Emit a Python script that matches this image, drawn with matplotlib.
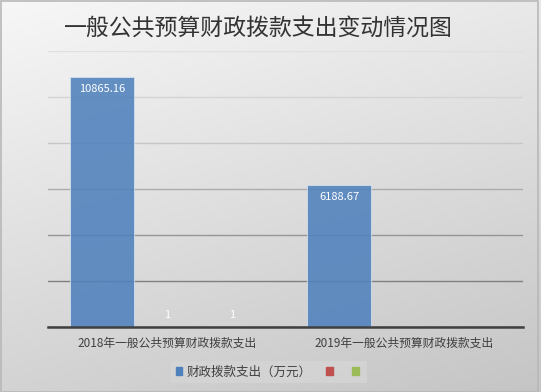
import numpy as np
import matplotlib.pyplot as plt
from matplotlib.patches import Patch, Rectangle

plt.rcParams['font.family'] = ['Noto Sans CJK SC', 'DejaVu Sans']

# data
title = '一般公共预算财政拨款支出变动情况图'
categories = ['2018年一般公共预算财政拨款支出', '2019年一般公共预算财政拨款支出']
series_names = ['财政拨款支出（万元）', '', '']
series_values = [
    [10865.16, 6188.67],
    [1, None],
    [1, None],
]
series_colors = ['#4f81bd', '#c0504d', '#9bbb59']
yticks = [0, 2000, 4000, 6000, 8000, 10000, 12000]

fig = plt.figure(figsize=(5.41, 3.92), dpi=100)

# gradient background like the office chart
bg = fig.add_axes([0, 0, 1, 1], zorder=-5)
gx, gy = np.meshgrid(np.linspace(0, 1, 200), np.linspace(0, 1, 200))
grad = (247 - 36 * gy - 14 * gx) / 255.0
bg.imshow(np.dstack([grad, grad, grad]), extent=[0, 1, 0, 1], aspect='auto', origin='upper')
bg.add_patch(Rectangle((0.001, 0.001), 0.994, 0.996, fill=False, edgecolor='#b8b8b8', lw=1.2))
bg.set_xlim(0, 1)
bg.set_ylim(0, 1)
bg.axis('off')

ax = fig.add_axes([48 / 541, 1 - 327 / 392, 475 / 541, 276 / 392])
ax.patch.set_alpha(0)

n = len(series_values)
x = np.arange(len(categories))
step = 65 / 237.5
width = 64 / 237.5
for i, (vals, col) in enumerate(zip(series_values, series_colors)):
    xs = x + (i - (n - 1) / 2) * step
    for xi, v in zip(xs, vals):
        if v is None:
            continue
        ax.bar(xi, v, width=width, color=col, alpha=0.88, edgecolor='#dbe5f1', lw=0.6, zorder=3)
        if v > 1000:
            ax.annotate(f'{v:.2f}', (xi, v), xytext=(0, -5), textcoords='offset points',
                        ha='center', va='top', color='white', fontsize=8, zorder=4)
        else:
            ax.annotate(f'{v:g}', (xi, v), xytext=(0, 5), textcoords='offset points',
                        ha='center', va='bottom', color='white', fontsize=8, zorder=4)

ax.set_xlim(-0.5, len(categories) - 0.5)
ax.set_ylim(yticks[0], yticks[-1])
ax.set_yticks(yticks)
ax.set_yticklabels([])
ax.tick_params(axis='y', length=0)
ax.set_xticks(x)
ax.set_xticklabels(categories, fontsize=8.5, color='#404040')
ax.tick_params(axis='x', length=0, pad=7)

ax.yaxis.grid(True, zorder=0)
grid_cols = ['#404040', '#808080', '#969696', '#acacac', '#c6c6c6', '#d4d4d4', '#e0e0e0']
for line, c in zip(ax.get_ygridlines(), grid_cols):
    line.set_color(c)
    line.set_linewidth(1.0)
for s in ['top', 'right', 'left']:
    ax.spines[s].set_visible(False)
ax.spines['bottom'].set_color('#404040')
ax.spines['bottom'].set_linewidth(1.8)
ax.spines['bottom'].set_zorder(5)

fig.text(258 / 541, 1 - 28 / 392, title, ha='center', va='center', fontsize=16.5,
         color='#333333', fontweight='medium')

handles = [Patch(color=c) for c in series_colors]
leg = fig.legend(handles, series_names, loc='center', bbox_to_anchor=(269 / 541, 1 - 372 / 392),
                 ncol=3, fontsize=9, frameon=True, fancybox=False, handlelength=0.55,
                 handleheight=0.55, handletextpad=0.3, columnspacing=1.2, borderpad=0.35)
leg.get_frame().set_facecolor('#d6d6d6')
leg.get_frame().set_edgecolor('none')
leg.get_frame().set_alpha(0.7)
for t in leg.get_texts():
    t.set_color('#404040')

fig.savefig('out.png', dpi=100)
